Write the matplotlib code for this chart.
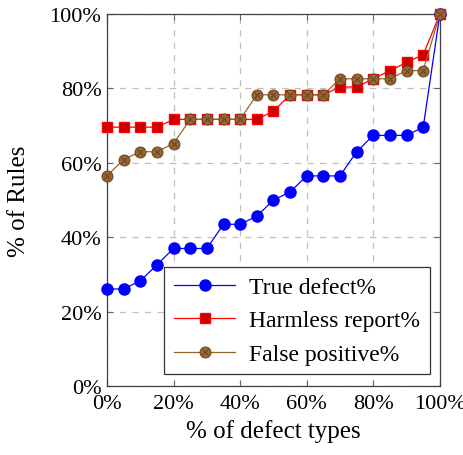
import matplotlib
matplotlib.use("Agg")
import matplotlib.pyplot as plt
from matplotlib.legend_handler import HandlerTuple

plt.rcParams['font.family'] = ['Liberation Serif', 'DejaVu Serif']

x = [0, 5, 10, 15, 20, 25, 30, 35, 40, 45, 50, 55, 60, 65, 70, 75, 80, 85, 90, 95, 100]
true_defect = [26.1, 26.1, 28.3, 32.6, 37.0, 37.0, 37.0, 43.5, 43.5, 45.7, 50.0,
               52.2, 56.5, 56.5, 56.5, 63.0, 67.4, 67.4, 67.4, 69.6, 100.0]
harmless = [69.6, 69.6, 69.6, 69.6, 71.7, 71.7, 71.7, 71.7, 71.7, 71.7, 73.9,
            78.3, 78.3, 78.3, 80.4, 80.4, 82.6, 84.8, 87.0, 89.1, 100.0]
false_pos = [56.5, 60.9, 63.0, 63.0, 65.2, 71.7, 71.7, 71.7, 71.7, 78.3, 78.3,
             78.3, 78.3, 78.3, 82.6, 82.6, 82.6, 82.6, 84.8, 84.8, 100.0]
ticks = [0, 20, 40, 60, 80, 100]
tick_labels = ['0%', '20%', '40%', '60%', '80%', '100%']

fig = plt.figure(figsize=(4.64, 4.56), dpi=100)
ax = fig.add_axes([0.2306, 0.151, 0.7174, 0.816])

brown = (0.6, 0.4, 0.2)
dark_brown = (0.38, 0.24, 0.1)

l1, = ax.plot(x, true_defect, color='blue', lw=0.9, marker='o', ms=8,
              mfc='blue', mec='blue', clip_on=False, zorder=3)
l2, = ax.plot(x, harmless, color='red', lw=0.9, marker='s', ms=7.5,
              mfc=(0.8, 0, 0), mec='red', clip_on=False, zorder=3)
l3, = ax.plot(x, false_pos, color=brown, lw=0.9, marker='o', ms=8,
              mfc=brown, mec=dark_brown, mew=0.6, clip_on=False, zorder=4)
l3x, = ax.plot(x, false_pos, ls='none', marker='x', ms=5, mec=dark_brown,
               mew=0.6, clip_on=False, zorder=5)

ax.set_xlim(0, 100)
ax.set_ylim(0, 100)
ax.set_xticks(ticks)
ax.set_xticklabels(tick_labels)
ax.set_yticks(ticks)
ax.set_yticklabels(tick_labels)
ax.tick_params(direction='in', top=True, right=True, labelsize=16, length=4,
               color='0.4', pad=4)
ax.tick_params(axis='x', pad=6)
ax.grid(True, ls=(0, (5, 5)), color='0.75', lw=0.9)
ax.set_axisbelow(True)
for s in ax.spines.values():
    s.set_linewidth(0.9)
    s.set_color('0.25')

ax.set_xlabel('% of defect types', fontsize=18, labelpad=4)
ax.set_ylabel('% of Rules', fontsize=18, labelpad=14)

leg = ax.legend([l1, l2, (l3, l3x)], ['True defect%', 'Harmless report%', 'False positive%'],
                handler_map={tuple: HandlerTuple(ndivide=1, pad=0)},
                loc='lower right', bbox_to_anchor=(0.97, 0.032), fontsize=17,
                fancybox=False, framealpha=1, edgecolor='0.2', borderpad=0.4,
                handlelength=2.6, labelspacing=0.5, handletextpad=0.6,
                borderaxespad=0)
leg.get_frame().set_linewidth(0.9)

fig.savefig('out.png', dpi=100)
